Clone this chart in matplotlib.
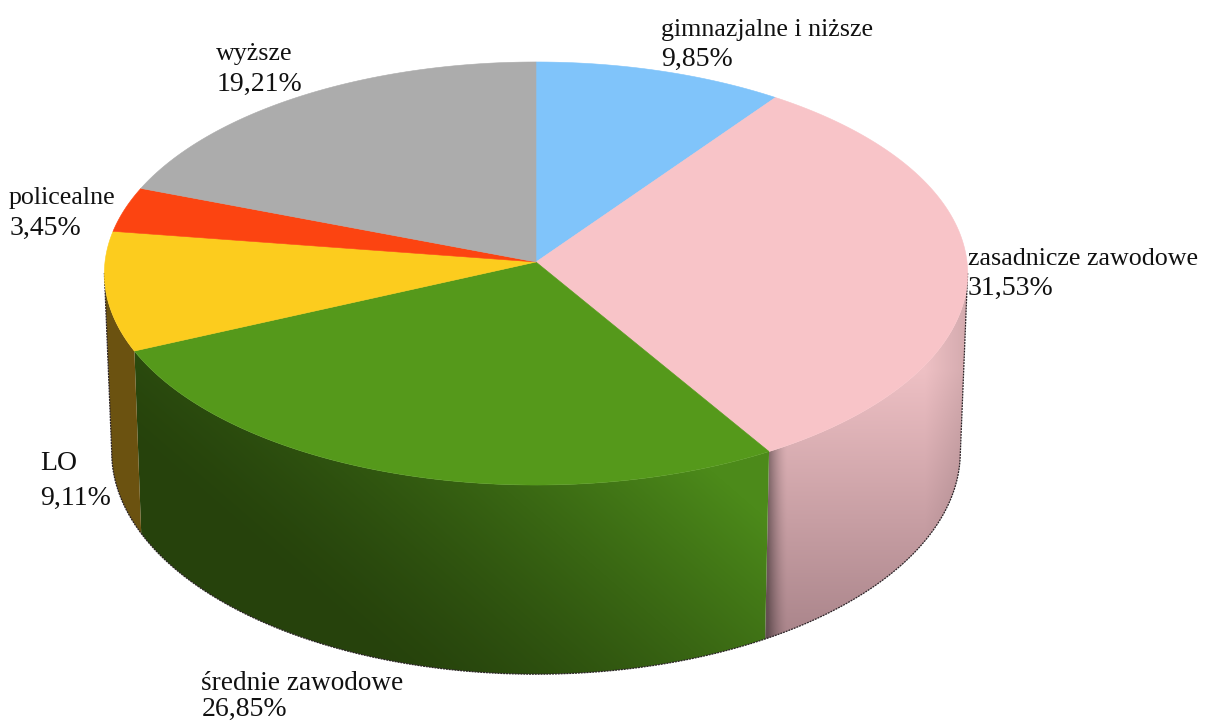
import numpy as np
import matplotlib
matplotlib.use("Agg")
import matplotlib.pyplot as plt
from matplotlib.patches import Polygon
from matplotlib.colors import to_rgb

# udzial wyksztalcenia, kolejnosc zgodnie z ruchem wskazowek zegara od gory
labels = ['gimnazjalne i niższe', 'zasadnicze zawodowe', 'średnie zawodowe',
          'LO', 'policealne', 'wyższe']
values = [9.85, 31.53, 26.85, 9.11, 3.45, 19.21]
value_text = ['9,85%', '31,53%', '26,85%', '9,11%', '3,45%', '19,21%']
colors = ['#80c4fa', '#f8c4c8', '#55991b', '#fccc1e', '#fc4411', '#acacac']
name_pos = [(661, 30), (968, 259), (201, 684), (40, 464), (9, 198), (216, 54)]
value_pos = [(661, 59), (968, 288), (202, 709), (40, 498), (10, 228), (217, 84)]
name_size = [18.7, 18.7, 19.6, 20, 18.7, 18.7]

# rzut perspektywiczny kola
CX, CY = 536, 262
RX, RY, B = 431, 210.9, -0.0544
DEPTH_K, DEPTH_Y, DEPTH_X = 1.05, 440, 0.983
VIS_FROM, VIS_TO = np.radians(93), np.radians(267)


def rim(angles):
    u, v = np.sin(angles), -np.cos(angles)
    d = 1 + B * v
    return CX + RX * u / d, CY + RY * v / d


def low_rim(angles):
    x, y = rim(angles)
    return CX + DEPTH_X * (x - CX), DEPTH_Y + DEPTH_K * (y - CY)


fig = plt.figure(figsize=(12.12, 7.22), dpi=100)
ax = fig.add_axes([0, 0, 1, 1])
ax.set_xlim(0, 1212)
ax.set_ylim(722, 0)
ax.axis('off')

gx, gy = np.meshgrid(np.arange(1212) + 0.5, np.arange(722) + 0.5)


def wall_image(name):
    # cieniowanie bocznych scian
    if name == 'zasadnicze zawodowe':
        t = np.clip((gy - 370) / 270, 0, 1)
        top, bot = np.array(to_rgb('#eec0c4')), np.array(to_rgb('#a9848a'))
        img = top + (bot - top) * t[..., None]
        strip = np.clip((788 - gx) / 20, 0, 1)[..., None]
        img = img * (1 - 0.42 * strip ** 1.6)
        edge = np.clip((gx - 925) / 45, 0, 1)[..., None]
        return img * (1 - 0.12 * edge)
    if name == 'średnie zawodowe':
        t = np.clip(((gx - 330) / 440 * 0.8 + (640 - gy) / 190 * 0.4 - 0.05), 0, 1)
        top, bot = np.array(to_rgb('#26420c')), np.array(to_rgb('#4c8a1a'))
        return top + (bot - top) * (t[..., None] ** 1.3)
    img = np.ones((722, 1212, 3)) * np.array(to_rgb('#6b5210'))
    return img


cum = np.concatenate([[0], np.cumsum(values)]) / sum(values) * 2 * np.pi
for i, name in enumerate(labels):
    a0 = max(cum[i], VIS_FROM)
    a1 = min(cum[i + 1], VIS_TO)
    if a1 <= a0:
        continue
    arc = np.linspace(a0, a1, 120)
    tx, ty = rim(arc)
    bx, by = low_rim(arc)
    pts = np.column_stack([np.r_[tx, bx[::-1]], np.r_[ty, by[::-1]]])
    patch = Polygon(pts, closed=True, fc='none', ec='none')
    ax.add_patch(patch)
    im = ax.imshow(wall_image(name), extent=(0, 1212, 722, 0), aspect='auto',
                   interpolation='bilinear', zorder=1)
    im.set_clip_path(patch)

# ciemna krawedz sylwetki
arc = np.linspace(VIS_FROM, VIS_TO, 400)
bx, by = low_rim(arc)
tx0, ty0 = rim(np.array([VIS_FROM, VIS_TO]))
ex = np.r_[tx0[0], bx, tx0[1]]
ey = np.r_[ty0[0], by, ty0[1]]
ax.plot(ex, ey, color='#2a2226', lw=0.9, ls=(0, (1.5, 0.8)), zorder=2)

# gorna powierzchnia
for i, c in enumerate(colors):
    arc = np.linspace(cum[i], cum[i + 1], 200)
    x, y = rim(arc)
    ax.fill(np.r_[CX, x], np.r_[CY, y], fc=c, ec=c, lw=0.4, zorder=3)

for i, name in enumerate(labels):
    ax.text(name_pos[i][0], name_pos[i][1], name, family='Liberation Serif',
            fontsize=name_size[i], color='#111111', ha='left', va='center', zorder=5)
    ax.text(value_pos[i][0], value_pos[i][1], value_text[i], family='Liberation Serif',
            fontsize=20, color='#111111', ha='left', va='center', zorder=5)

ax.set_xlim(0, 1212)
ax.set_ylim(722, 0)
fig.savefig('out.png', dpi=100, facecolor='white')
